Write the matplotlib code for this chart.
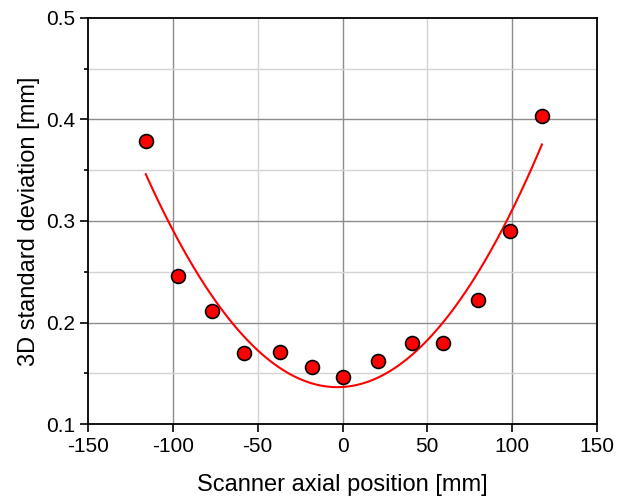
import numpy as np
import matplotlib
matplotlib.use("Agg")
import matplotlib.pyplot as plt

# measured points
pos_mm = [-116, -97, -77, -58, -37, -18, 0, 21, 41, 59, 80, 98.6, 117.6]
std_mm = [0.379, 0.246, 0.211, 0.170, 0.171, 0.156, 0.146, 0.162, 0.180, 0.180, 0.222, 0.290, 0.403]

x_ticks = [-150, -100, -50, 0, 50, 100, 150]
y_ticks = [0.1, 0.2, 0.3, 0.4, 0.5]

plt.rcParams['font.family'] = ['Liberation Sans', 'DejaVu Sans']

fig = plt.figure(figsize=(6.25, 5), dpi=100)
ax = fig.add_axes([0.141, 0.152, 0.814, 0.812])

# grid: darker on major, lighter on minor
for xv in [-100, 0, 100]:
    ax.axvline(xv, color='#8c8c8c', lw=1.0, zorder=0)
for xv in [-50, 50]:
    ax.axvline(xv, color='#d4d4d4', lw=1.0, zorder=0)
for yv in [0.2, 0.3, 0.4]:
    ax.axhline(yv, color='#8c8c8c', lw=1.0, zorder=0)
for yv in [0.15, 0.25, 0.35, 0.45]:
    ax.axhline(yv, color='#d4d4d4', lw=1.0, zorder=0)

# quadratic fit
coef = np.polyfit(pos_mm, std_mm, 2)
xf = np.linspace(min(pos_mm), max(pos_mm), 200)
ax.plot(xf, np.polyval(coef, xf), color='red', lw=1.5, zorder=2)

ax.plot(pos_mm, std_mm, 'o', ms=10, mfc='red', mec='black', mew=1.2, zorder=3)

ax.set_xlim(-150, 150)
ax.set_ylim(0.1, 0.5)
ax.set_xticks(x_ticks)
ax.set_xticklabels([str(t) for t in x_ticks])
ax.set_yticks(y_ticks)
ax.set_yticklabels([f'{t:.1f}' for t in y_ticks])
ax.set_yticks([0.15, 0.25, 0.35, 0.45], minor=True)
ax.tick_params(axis='both', which='major', direction='out', length=6, width=1.2, labelsize=15)
ax.tick_params(axis='y', which='minor', direction='out', length=3, width=1.2)
for s in ax.spines.values():
    s.set_linewidth(1.3)

ax.set_xlabel('Scanner axial position [mm]', fontsize=17, labelpad=13)
ax.set_ylabel('3D standard deviation [mm]', fontsize=17, labelpad=4)

fig.savefig('out.png', dpi=100)
